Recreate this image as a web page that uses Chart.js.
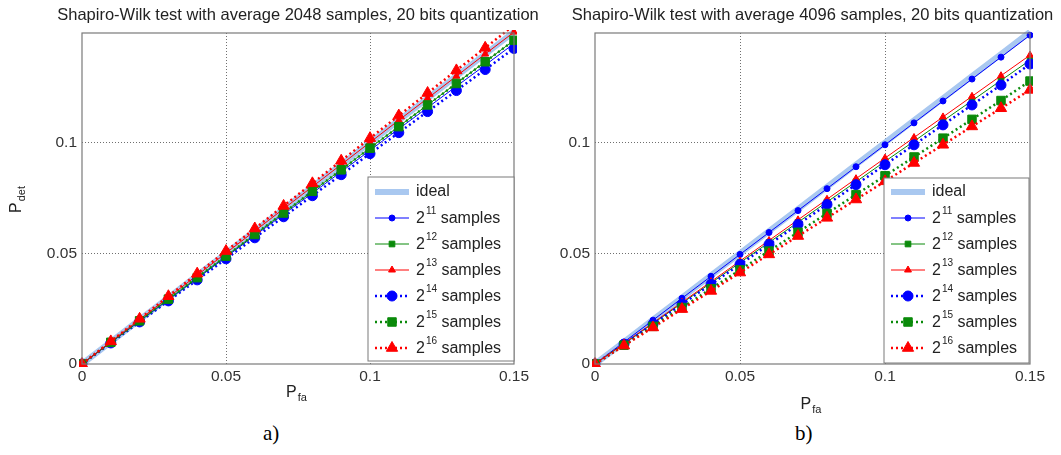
<!DOCTYPE html>
<html>
<head>
<meta charset="utf-8">
<script src="https://cdn.jsdelivr.net/npm/chart.js@4"></script>
<style>
body { margin: 0; background: #fff; width: 1061px; height: 455px; overflow: hidden; position: relative; }
canvas { position: absolute; top: 0; }
#chartA { left: 0; }
#chartB { left: 530px; }
.cap { position: absolute; top: 421px; font: 21px "Liberation Serif", serif; color: #000; }
</style>
</head>
<body>
<canvas id="chartA" width="545" height="420"></canvas>
<canvas id="chartB" width="531" height="420"></canvas>
<div class="cap" style="left:263px">a)</div>
<div class="cap" style="left:795px">b)</div>
<script>
// P_fa values (x axis), same for both plots
const xVals = [0, 0.01, 0.02, 0.03, 0.04, 0.05, 0.06, 0.07, 0.08, 0.09, 0.1, 0.11, 0.12, 0.13, 0.14, 0.15];
const idealVals = [0, 0.01, 0.02, 0.03, 0.04, 0.05, 0.06, 0.07, 0.08, 0.09, 0.1, 0.11, 0.12, 0.13, 0.14, 0.15];

// a) average 2048 samples
const a11 = [0, 0.0097, 0.0193, 0.029, 0.0386, 0.0483, 0.058, 0.0676, 0.0772, 0.0868, 0.0965, 0.1062, 0.1158, 0.1254, 0.135, 0.1447];
const a12 = [0, 0.0098, 0.0196, 0.0293, 0.039, 0.0488, 0.0585, 0.0683, 0.078, 0.0878, 0.0976, 0.1073, 0.117, 0.1268, 0.1365, 0.1462];
const a13 = [0, 0.0101, 0.0201, 0.0301, 0.0401, 0.0501, 0.0601, 0.0701, 0.0801, 0.0901, 0.1001, 0.1101, 0.12, 0.13, 0.14, 0.1499];
const a14 = [0, 0.0095, 0.019, 0.0285, 0.038, 0.0475, 0.057, 0.0665, 0.076, 0.0855, 0.095, 0.1045, 0.114, 0.1235, 0.133, 0.1425];
const a15 = [0, 0.0098, 0.0195, 0.0293, 0.039, 0.0487, 0.0585, 0.0682, 0.078, 0.0877, 0.0975, 0.1072, 0.117, 0.1267, 0.1365, 0.1462];
const a16 = [0, 0.0102, 0.0204, 0.0306, 0.0408, 0.051, 0.0612, 0.0714, 0.0816, 0.0918, 0.102, 0.1122, 0.1224, 0.1326, 0.1428, 0.153];

// b) average 4096 samples
const b11 = [0, 0.0099, 0.0198, 0.0297, 0.0396, 0.0495, 0.0594, 0.0693, 0.0792, 0.0891, 0.099, 0.1089, 0.1188, 0.1287, 0.1386, 0.1485];
const b12 = [0, 0.0092, 0.0183, 0.0275, 0.0366, 0.0458, 0.0549, 0.064, 0.0732, 0.0823, 0.0915, 0.1006, 0.1098, 0.1189, 0.1281, 0.1372];
const b13 = [0, 0.0093, 0.0186, 0.0279, 0.0372, 0.0465, 0.0558, 0.0651, 0.0744, 0.0837, 0.093, 0.1023, 0.1116, 0.1209, 0.1302, 0.1395];
const b14 = [0, 0.009, 0.018, 0.027, 0.036, 0.045, 0.054, 0.063, 0.072, 0.081, 0.09, 0.099, 0.108, 0.117, 0.126, 0.1355];
const b15 = [0, 0.0085, 0.017, 0.0255, 0.034, 0.0425, 0.051, 0.0595, 0.068, 0.0765, 0.085, 0.0935, 0.102, 0.1105, 0.119, 0.1278];
const b16 = [0, 0.0083, 0.0165, 0.0248, 0.033, 0.0413, 0.0495, 0.0578, 0.066, 0.0743, 0.0825, 0.0908, 0.099, 0.1073, 0.1155, 0.1238];

const seriesNames = ["ideal", "11", "12", "13", "14", "15", "16"];
const xTicks = [0, 0.05, 0.1, 0.15];
const yTicks = [0, 0.05, 0.1];

const FONT = "'Liberation Sans', Arial, sans-serif";
Chart.defaults.font.family = FONT;

const looks = [
    { color: "#a9c8f0", width: 6, dash: [], shape: "circle", r: 0 },
    { color: "#0000ff", width: 1, dash: [], shape: "circle", r: 3 },
    { color: "#0a8a0a", width: 1, dash: [], shape: "rect", r: 4 },
    { color: "#ff0000", width: 1, dash: [], shape: "triangle", r: 4 },
    { color: "#0000ff", width: 2.5, dash: [2, 3], shape: "circle", r: 5 },
    { color: "#0a8a0a", width: 2.5, dash: [2, 3], shape: "rect", r: 6 },
    { color: "#ff0000", width: 2.5, dash: [2, 3], shape: "triangle", r: 6.5 }
];

function makeSets(list) {
    return list.map(function (vals, i) {
        const s = looks[i];
        return {
            label: i === 0 ? "ideal" : "2^" + seriesNames[i] + " samples",
            data: xVals.map(function (x, k) { return { x: x, y: vals[k] }; }),
            borderColor: s.color,
            backgroundColor: s.color,
            borderWidth: s.width,
            borderDash: s.dash,
            pointStyle: s.shape,
            pointRadius: s.r,
            pointBorderWidth: 1,
            pointHoverRadius: s.r,
            tension: 0,
            order: 7 - i,
            clip: 3
        };
    });
}

function drawSub(ctx, x, y, main, sub, size, subSize, shift) {
    ctx.font = size + "px " + FONT;
    ctx.fillText(main, x, y);
    const w = ctx.measureText(main).width;
    ctx.font = subSize + "px " + FONT;
    ctx.fillText(sub, x + w + 1, y + shift);
    return w + 1 + ctx.measureText(sub).width;
}

const deco = {
    id: "deco",
    afterDraw: function (chart, args, o) {
        const ctx = chart.ctx;
        const a = chart.chartArea;
        ctx.save();

        // box around the axes
        ctx.strokeStyle = "#7a7a7a";
        ctx.lineWidth = 1.2;
        ctx.setLineDash([]);
        ctx.strokeRect(a.left, a.top, a.right - a.left, a.bottom - a.top);

        // title
        ctx.fillStyle = "#222";
        ctx.font = "16.5px " + FONT;
        ctx.textAlign = "center";
        ctx.textBaseline = "middle";
        ctx.fillText(o.title, (a.left + a.right) / 2, 15);

        // x title P_fa
        ctx.textAlign = "left";
        const cx = (a.left + a.right) / 2 - 12;
        drawSub(ctx, cx, o.xTitleY, "P", "fa", 16, 11, 5);

        // y title P_det
        if (o.yTitle) {
            ctx.save();
            ctx.translate(17, 213);
            ctx.rotate(-Math.PI / 2);
            ctx.textAlign = "left";
            drawSub(ctx, 0, 0, "P", "det", 16, 11, 5);
            ctx.restore();
        }

        // legend
        const L = o.legend;
        ctx.fillStyle = "#fff";
        ctx.fillRect(L.left, L.top, L.right - L.left, L.bottom - L.top);
        ctx.strokeStyle = "#7a7a7a";
        ctx.lineWidth = 1;
        ctx.strokeRect(L.left, L.top, L.right - L.left, L.bottom - L.top);
        chart.data.datasets.forEach(function (ds, i) {
            const y = L.y0 + i * 26;
            const x0 = L.left + 7, x1 = L.left + 41, xm = (x0 + x1) / 2;
            ctx.strokeStyle = ds.borderColor;
            ctx.fillStyle = ds.backgroundColor;
            ctx.lineWidth = ds.borderWidth;
            ctx.setLineDash(ds.borderDash);
            ctx.beginPath();
            ctx.moveTo(x0, y);
            ctx.lineTo(x1, y);
            ctx.stroke();
            ctx.setLineDash([]);
            if (ds.pointRadius > 0) {
                ctx.lineWidth = 1;
                Chart.helpers.drawPoint(ctx, { pointStyle: ds.pointStyle, radius: ds.pointRadius, rotation: 0, borderWidth: 1 }, xm, y);
            }
            ctx.fillStyle = "#222";
            ctx.textAlign = "left";
            ctx.textBaseline = "middle";
            if (i === 0) {
                ctx.font = "16px " + FONT;
                ctx.fillText("ideal", L.left + 48, y);
            } else {
                const w = drawSub(ctx, L.left + 48, y + 1, "2", seriesNames[i], 16, 10, -8);
                ctx.font = "16px " + FONT;
                ctx.fillText(" samples", L.left + 48 + w, y + 1);
            }
        });
        ctx.restore();
    }
};

function gridColor(c) {
    const v = c.tick ? c.tick.value : 0;
    return (v > 0.001 && v < 0.149) ? "#6f6f6f" : "rgba(0,0,0,0)";
}

function makeChart(id, sets, yAxisWidth, deco_opts) {
    return new Chart(document.getElementById(id).getContext("2d"), {
        type: "line",
        data: { datasets: makeSets(sets) },
        options: {
            responsive: false,
            animation: false,
            layout: { padding: { left: 0, right: 31, top: 33, bottom: 36 } },
            plugins: {
                legend: { display: false },
                tooltip: { enabled: false },
                deco: deco_opts
            },
            scales: {
                x: {
                    type: "linear",
                    min: 0,
                    max: 0.15,
                    afterBuildTicks: function (s) { s.ticks = xTicks.map(function (v) { return { value: v }; }); },
                    afterFit: function (s) { s.height = 20; },
                    border: { display: false, dash: [1, 2] },
                    grid: { color: gridColor, lineWidth: 1, drawTicks: false },
                    ticks: {
                        padding: 3,
                        color: "#333",
                        font: { size: 15.5 },
                        maxRotation: 0,
                        callback: function (v) { return String(v); }
                    }
                },
                y: {
                    type: "linear",
                    min: 0,
                    max: 0.1495,
                    afterBuildTicks: function (s) { s.ticks = yTicks.map(function (v) { return { value: v }; }); },
                    afterFit: function (s) { s.width = yAxisWidth; },
                    border: { display: false, dash: [1, 2] },
                    grid: { color: gridColor, lineWidth: 1, drawTicks: false },
                    ticks: {
                        padding: 5,
                        color: "#333",
                        font: { size: 15.5 },
                        callback: function (v) { return String(v); }
                    }
                }
            }
        },
        plugins: [deco]
    });
}

makeChart("chartA", [idealVals, a11, a12, a13, a14, a15, a16], 82, {
    title: "Shapiro-Wilk test with average 2048 samples, 20 bits quantization",
    xTitleY: 393,
    yTitle: true,
    legend: { left: 368, top: 177, right: 514, bottom: 361, y0: 192 }
});

makeChart("chartB", [idealVals, b11, b12, b13, b14, b15, b16], 65, {
    title: "Shapiro-Wilk test with average 4096 samples, 20 bits quantization",
    xTitleY: 405,
    yTitle: false,
    legend: { left: 354, top: 178, right: 499, bottom: 363, y0: 192 }
});
</script>
</body>
</html>
